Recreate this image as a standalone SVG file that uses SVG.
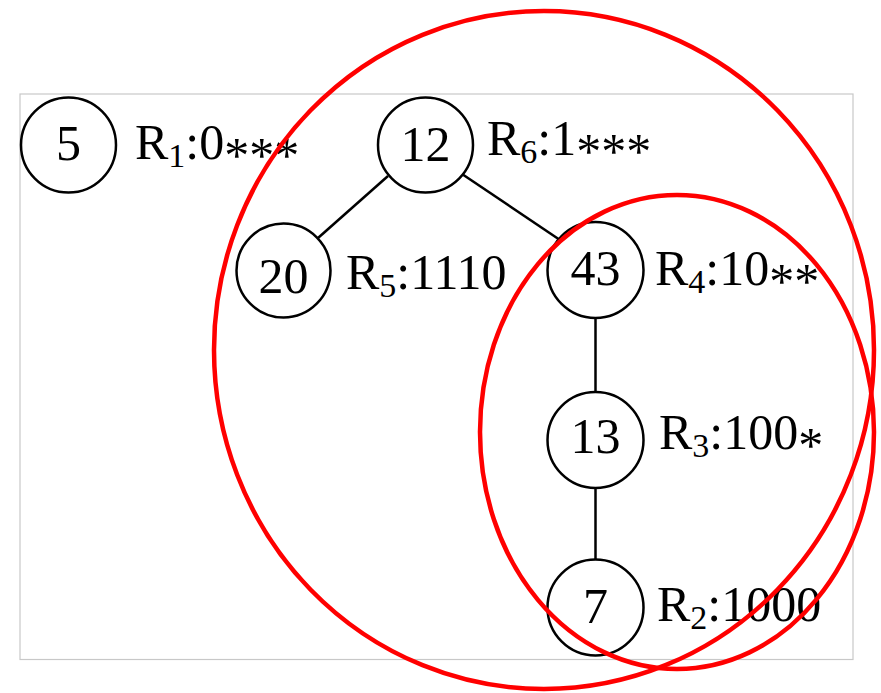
<svg xmlns="http://www.w3.org/2000/svg" width="881" height="693" viewBox="0 0 881 693">
<style>
.node circle{fill:#fff;stroke:#000;stroke-width:2.5}
.num{font-family:"Liberation Serif","Times New Roman",serif;font-size:50px;text-anchor:middle;fill:#000}
.lbl{font-family:"Liberation Serif","Times New Roman",serif;font-size:50px;fill:#000}
.sub{font-size:34px}
.edges line{stroke:#000;stroke-width:2.5}
.ring{fill:none;stroke:#ff0000;stroke-width:4.5}
</style>
<rect x="20" y="94" width="833" height="565.5" fill="#fff" stroke="#c8c8c8" stroke-width="1.2"/>
<g id="connectors" class="edges">
<line x1="388" y1="176" x2="318" y2="238"/>
<line x1="462" y1="174" x2="560" y2="240"/>
<line x1="595.5" y1="318" x2="595.5" y2="392"/>
<line x1="595.5" y1="488" x2="595.5" y2="560"/>
</g>
<g id="n5" class="node"><circle cx="68.5" cy="145" r="47.5"/><text class="num" x="68.5" y="160">5</text>
<text class="lbl" x="135" y="159">R<tspan class="sub" dy="8">1</tspan><tspan dy="-8">:0</tspan><tspan dy="13">***</tspan></text></g>
<g id="n12" class="node"><circle cx="425.5" cy="145" r="47.5"/><text class="num" x="425.5" y="161">12</text>
<text class="lbl" x="487" y="155">R<tspan class="sub" dy="8">6</tspan><tspan dy="-8">:1</tspan><tspan dy="13">***</tspan></text></g>
<g id="n20" class="node"><circle cx="283.5" cy="270.5" r="47"/><text class="num" x="283.5" y="293">20</text>
<text class="lbl" x="346" y="289">R<tspan class="sub" dy="8">5</tspan><tspan dy="-8">:1110</tspan></text></g>
<g id="n43" class="node"><circle cx="595.5" cy="270" r="48"/><text class="num" x="595.5" y="285">43</text>
<text class="lbl" x="655" y="285">R<tspan class="sub" dy="8">4</tspan><tspan dy="-8">:10</tspan><tspan dy="13">**</tspan></text></g>
<g id="n13" class="node"><circle cx="595.5" cy="440" r="48"/><text class="num" x="595.5" y="453">13</text>
<text class="lbl" x="659" y="449">R<tspan class="sub" dy="8">3</tspan><tspan dy="-8">:100</tspan><tspan dy="13">*</tspan></text></g>
<g id="n7" class="node"><circle cx="595.5" cy="607.5" r="48"/><text class="num" x="595.5" y="623">7</text>
<text class="lbl" x="657" y="621">R<tspan class="sub" dy="8">2</tspan><tspan dy="-8">:1000</tspan></text></g>
<g id="groups">
<ellipse class="ring" cx="544" cy="350" rx="330" ry="339"/>
<ellipse class="ring" cx="677" cy="432" rx="197" ry="237"/>
</g>
</svg>
